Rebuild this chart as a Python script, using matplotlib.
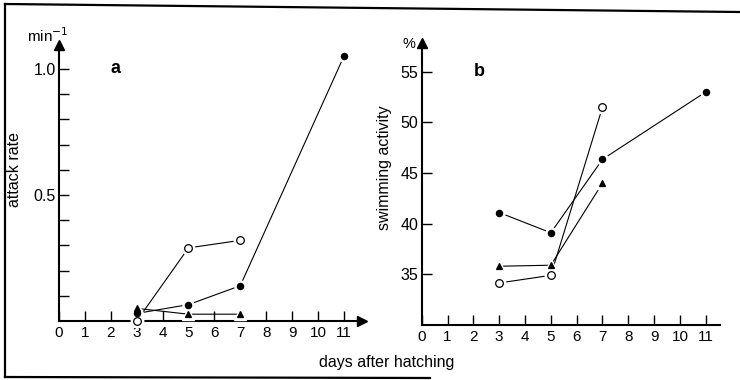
import matplotlib
matplotlib.use("Agg")
import matplotlib.pyplot as plt
from matplotlib.lines import Line2D
from matplotlib.ticker import FixedLocator

plt.rcParams['font.family'] = ['Liberation Sans', 'DejaVu Sans']

# ---- data ----
days_xticks = list(range(0, 12))

# panel a: attack rate (min^-1)
a_filled_x = [3, 5, 7, 11]
a_filled_y = [0.03, 0.065, 0.14, 1.05]
a_open_x = [3, 5, 7]
a_open_y = [0.0, 0.29, 0.32]
a_tri_x = [3, 5, 7]
a_tri_y = [0.05, 0.027, 0.027]

# panel b: swimming activity (%)
b_filled_x = [3, 5, 7, 11]
b_filled_y = [41.1, 39.1, 46.35, 53.0]
b_open_x = [3, 5, 7]
b_open_y = [34.15, 34.9, 51.5]
b_tri_x = [3, 5, 7]
b_tri_y = [35.8, 35.9, 44.0]

W, H = 740, 380
fig = plt.figure(figsize=(7.4, 3.8), dpi=100)


def frac_axes(x0, y_bottom, x1, y_top):
    return [x0 / W, (H - y_bottom) / H, (x1 - x0) / W, (y_bottom - y_top) / H]


def series(ax, x, y, marker, filled, ms):
    ax.plot(x, y, '-', color='black', lw=0.8, zorder=2, clip_on=False)
    # white halo to create small gaps between lines and markers
    ax.plot(x, y, linestyle='none', marker=marker, ms=ms + 3.5,
            color='white', mec='white', zorder=3, clip_on=False)
    ax.plot(x, y, linestyle='none', marker=marker, ms=ms,
            mfc='black' if filled else 'white', mec='black', mew=0.9,
            zorder=4, clip_on=False)


def style_axes(ax):
    for s in ['top', 'right']:
        ax.spines[s].set_visible(False)
    for s in ['left', 'bottom']:
        ax.spines[s].set_linewidth(1.5)
    ax.plot(1, 0, '>k', ms=7, transform=ax.get_yaxis_transform(), clip_on=False)
    ax.plot(0, 1, '^k', ms=7, transform=ax.get_xaxis_transform(), clip_on=False)
    ax.tick_params(which='both', direction='in', length=7.5, width=1.0, pad=3.5)
    ax.tick_params(axis='x', labelsize=11)
    ax.tick_params(axis='y', pad=2.5, labelsize=11.5)
    ax.set_xticks(days_xticks)
    ax.set_xticklabels([str(d) for d in days_xticks])
    ax.patch.set_alpha(0)


# ---- panel a ----
axa = fig.add_axes(frac_axes(59, 321, 362, 45))
axa.set_xlim(0, 11.7)
axa.set_ylim(0, 1.095)
style_axes(axa)
axa.yaxis.set_major_locator(FixedLocator([0.5, 1.0]))
axa.yaxis.set_minor_locator(FixedLocator([0.1, 0.2, 0.3, 0.4, 0.6, 0.7, 0.8, 0.9]))
axa.set_yticklabels(['0.5', '1.0'])
series(axa, a_filled_x, a_filled_y, 'o', True, 4.5)
series(axa, a_open_x, a_open_y, 'o', False, 5.5)
series(axa, a_tri_x, a_tri_y, '^', True, 4.5)
axa.set_ylabel('attack rate', fontsize=11.5)
axa.yaxis.set_label_coords(-0.122, 0.55)
axa.text(-0.036, 1.011, 'min$^{-1}$', transform=axa.transAxes, ha='center',
         va='baseline', fontsize=11)
axa.text(2.2, 1.0, 'a', fontsize=13, fontweight='bold', ha='center', va='center')

# ---- panel b ----
axb = fig.add_axes(frac_axes(421.7, 325, 720, 43.3))
axb.set_xlim(0, 11.55)
axb.set_ylim(30, 57.8)
style_axes(axb)
axb.yaxis.set_major_locator(FixedLocator([35, 40, 45, 50, 55]))
series(axb, b_filled_x, b_filled_y, 'o', True, 4.5)
series(axb, b_open_x, b_open_y, 'o', False, 5.5)
series(axb, b_tri_x, b_tri_y, '^', True, 4.5)
axb.set_ylabel('swimming activity', fontsize=11.5)
axb.yaxis.set_label_coords(-0.10, 0.56)
axb.text(-0.02, 0.998, '%', transform=axb.transAxes, ha='right',
         va='center', fontsize=10.5)
axb.text(2.25, 55, 'b', fontsize=13, fontweight='bold', ha='center', va='center')

fig.text(387 / W, (H - 362) / H, 'days after hatching', ha='center',
         va='center', fontsize=11.5)

# outer frame (partly cut off in the scan)
def fline(xs, ys, lw=1.6):
    fig.add_artist(Line2D([x / W for x in xs], [(H - y) / H for y in ys],
                          color='black', lw=lw))

fline([5, 740], [4, 12])
fline([5, 5], [4, 377])
fline([5, 430], [377, 378])

fig.savefig('out.png', dpi=100)
